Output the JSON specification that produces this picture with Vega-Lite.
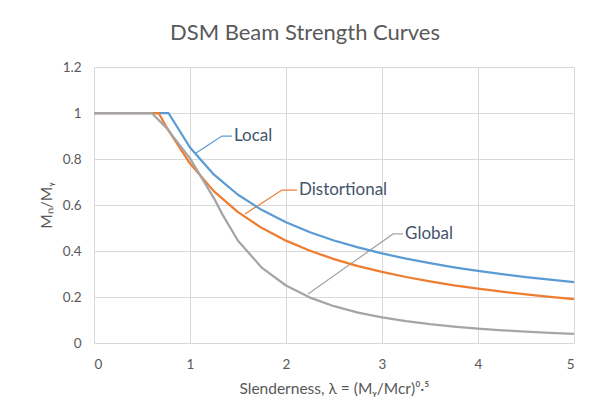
{
  "$schema": "https://vega.github.io/schema/vega-lite/v6.json",
  "width": 480,
  "height": 276,
  "autosize": {"type": "none"},
  "padding": {"left": 94, "top": 67, "right": 16, "bottom": 76},
  "background": "white",
  "title": {
    "text": "DSM Beam Strength Curves",
    "fontSize": 22,
    "font": "Lato",
    "fontWeight": "normal",
    "color": "#595959",
    "anchor": "middle",
    "dx": -29,
    "offset": 15
  },
  "config": {
    "font": "Lato",
    "view": {"stroke": null},
    "axis": {
      "grid": true,
      "gridColor": "#D9D9D9",
      "gridWidth": 1,
      "domain": false,
      "ticks": false,
      "labelColor": "#595959",
      "labelFontSize": 13.5,
      "titleColor": "#595959",
      "titleFontSize": 15.5,
      "titleFontWeight": "normal"
    }
  },
  "datasets": {
    "curves": [
      {"lam": 0, "mn": 1, "curve": "Local"},
      {"lam": 0.25, "mn": 1, "curve": "Local"},
      {"lam": 0.5, "mn": 1, "curve": "Local"},
      {"lam": 0.75, "mn": 1, "curve": "Local"},
      {"lam": 0.776, "mn": 1, "curve": "Local"},
      {"lam": 1.0, "mn": 0.85, "curve": "Local"},
      {"lam": 1.25, "mn": 0.7316, "curve": "Local"},
      {"lam": 1.5, "mn": 0.6446, "curve": "Local"},
      {"lam": 1.75, "mn": 0.5778, "curve": "Local"},
      {"lam": 2.0, "mn": 0.5249, "curve": "Local"},
      {"lam": 2.25, "mn": 0.4817, "curve": "Local"},
      {"lam": 2.5, "mn": 0.4458, "curve": "Local"},
      {"lam": 2.75, "mn": 0.4155, "curve": "Local"},
      {"lam": 3.0, "mn": 0.3894, "curve": "Local"},
      {"lam": 3.25, "mn": 0.3667, "curve": "Local"},
      {"lam": 3.5, "mn": 0.3469, "curve": "Local"},
      {"lam": 3.75, "mn": 0.3292, "curve": "Local"},
      {"lam": 4.0, "mn": 0.3136, "curve": "Local"},
      {"lam": 4.25, "mn": 0.2995, "curve": "Local"},
      {"lam": 4.5, "mn": 0.2867, "curve": "Local"},
      {"lam": 4.75, "mn": 0.2751, "curve": "Local"},
      {"lam": 5.0, "mn": 0.2645, "curve": "Local"},
      {"lam": 0, "mn": 1, "curve": "Distortional"},
      {"lam": 0.25, "mn": 1, "curve": "Distortional"},
      {"lam": 0.5, "mn": 1, "curve": "Distortional"},
      {"lam": 0.673, "mn": 1, "curve": "Distortional"},
      {"lam": 0.75, "mn": 0.9422, "curve": "Distortional"},
      {"lam": 1.0, "mn": 0.78, "curve": "Distortional"},
      {"lam": 1.25, "mn": 0.6592, "curve": "Distortional"},
      {"lam": 1.5, "mn": 0.5689, "curve": "Distortional"},
      {"lam": 1.75, "mn": 0.4996, "curve": "Distortional"},
      {"lam": 2.0, "mn": 0.445, "curve": "Distortional"},
      {"lam": 2.25, "mn": 0.401, "curve": "Distortional"},
      {"lam": 2.5, "mn": 0.3648, "curve": "Distortional"},
      {"lam": 2.75, "mn": 0.3345, "curve": "Distortional"},
      {"lam": 3.0, "mn": 0.3089, "curve": "Distortional"},
      {"lam": 3.25, "mn": 0.2869, "curve": "Distortional"},
      {"lam": 3.5, "mn": 0.2678, "curve": "Distortional"},
      {"lam": 3.75, "mn": 0.251, "curve": "Distortional"},
      {"lam": 4.0, "mn": 0.2363, "curve": "Distortional"},
      {"lam": 4.25, "mn": 0.2231, "curve": "Distortional"},
      {"lam": 4.5, "mn": 0.2114, "curve": "Distortional"},
      {"lam": 4.75, "mn": 0.2008, "curve": "Distortional"},
      {"lam": 5.0, "mn": 0.1912, "curve": "Distortional"},
      {"lam": 0, "mn": 1, "curve": "Global"},
      {"lam": 0.25, "mn": 1, "curve": "Global"},
      {"lam": 0.5, "mn": 1, "curve": "Global"},
      {"lam": 0.6, "mn": 1, "curve": "Global"},
      {"lam": 0.75, "mn": 0.9375, "curve": "Global"},
      {"lam": 1.0, "mn": 0.8025, "curve": "Global"},
      {"lam": 1.25, "mn": 0.6289, "curve": "Global"},
      {"lam": 1.336, "mn": 0.5603, "curve": "Global"},
      {"lam": 1.5, "mn": 0.4444, "curve": "Global"},
      {"lam": 1.75, "mn": 0.3265, "curve": "Global"},
      {"lam": 2.0, "mn": 0.25, "curve": "Global"},
      {"lam": 2.25, "mn": 0.1975, "curve": "Global"},
      {"lam": 2.5, "mn": 0.16, "curve": "Global"},
      {"lam": 2.75, "mn": 0.1322, "curve": "Global"},
      {"lam": 3.0, "mn": 0.1111, "curve": "Global"},
      {"lam": 3.25, "mn": 0.0947, "curve": "Global"},
      {"lam": 3.5, "mn": 0.0816, "curve": "Global"},
      {"lam": 3.75, "mn": 0.0711, "curve": "Global"},
      {"lam": 4.0, "mn": 0.0625, "curve": "Global"},
      {"lam": 4.25, "mn": 0.0554, "curve": "Global"},
      {"lam": 4.5, "mn": 0.0494, "curve": "Global"},
      {"lam": 4.75, "mn": 0.0443, "curve": "Global"},
      {"lam": 5.0, "mn": 0.04, "curve": "Global"}
    ],
    "leaders": [
      {"lam": 1.0625, "mn": 0.826, "curve": "Local", "o": 1},
      {"lam": 1.333, "mn": 0.9, "curve": "Local", "o": 2},
      {"lam": 1.4375, "mn": 0.9, "curve": "Local", "o": 3},
      {"lam": 1.573, "mn": 0.561, "curve": "Distortional", "o": 1},
      {"lam": 1.958, "mn": 0.665, "curve": "Distortional", "o": 2},
      {"lam": 2.115, "mn": 0.665, "curve": "Distortional", "o": 3},
      {"lam": 2.229, "mn": 0.213, "curve": "Global", "o": 1},
      {"lam": 3.115, "mn": 0.474, "curve": "Global", "o": 2},
      {"lam": 3.219, "mn": 0.474, "curve": "Global", "o": 3}
    ],
    "labels": [
      {"lam": 1.458, "mn": 0.9, "text": "Local"},
      {"lam": 2.135, "mn": 0.665, "text": "Distortional"},
      {"lam": 3.24, "mn": 0.474, "text": "Global"}
    ]
  },
  "encoding": {
    "x": {
      "field": "lam",
      "type": "quantitative",
      "scale": {"domain": [0, 5], "nice": false},
      "axis": {
        "values": [0, 1, 2, 3, 4, 5],
        "format": "~g",
        "labelPadding": 14,
        "title": "Slenderness, λ = (Mᵧ/Mcr)⁰·⁵",
        "titlePadding": 11
      }
    },
    "y": {
      "field": "mn",
      "type": "quantitative",
      "scale": {"domain": [0, 1.2], "nice": false},
      "axis": {
        "values": [0, 0.2, 0.4, 0.6, 0.8, 1, 1.2],
        "format": "~g",
        "labelPadding": 13,
        "title": "Mₙ/Mᵧ",
        "titlePadding": 8
      }
    }
  },
  "layer": [
    {
      "data": {"name": "leaders"},
      "mark": {"type": "line", "strokeWidth": 1.25},
      "encoding": {
        "order": {"field": "o", "type": "quantitative"},
        "detail": {"field": "curve"},
        "color": {
          "field": "curve",
          "type": "nominal",
          "scale": {"domain": ["Local", "Distortional", "Global"], "range": ["#5B9BD5", "#ED7D31", "#A5A5A5"]},
          "legend": null
        }
      }
    },
    {
      "data": {"name": "curves"},
      "transform": [{"filter": "datum.curve == 'Local'"}],
      "mark": {"type": "line", "strokeWidth": 2.25, "color": "#5B9BD5", "strokeJoin": "round"},
      "encoding": {}
    },
    {
      "data": {"name": "curves"},
      "transform": [{"filter": "datum.curve == 'Distortional'"}],
      "mark": {"type": "line", "strokeWidth": 2.25, "color": "#ED7D31", "strokeJoin": "round"},
      "encoding": {}
    },
    {
      "data": {"name": "curves"},
      "transform": [{"filter": "datum.curve == 'Global'"}],
      "mark": {"type": "line", "strokeWidth": 2.25, "color": "#A5A5A5", "strokeJoin": "round"},
      "encoding": {}
    },
    {
      "data": {"name": "labels"},
      "mark": {"type": "text", "align": "left", "baseline": "middle", "fontSize": 17, "color": "#44546A", "font": "Lato"},
      "encoding": {"text": {"field": "text"}}
    }
  ]
}
